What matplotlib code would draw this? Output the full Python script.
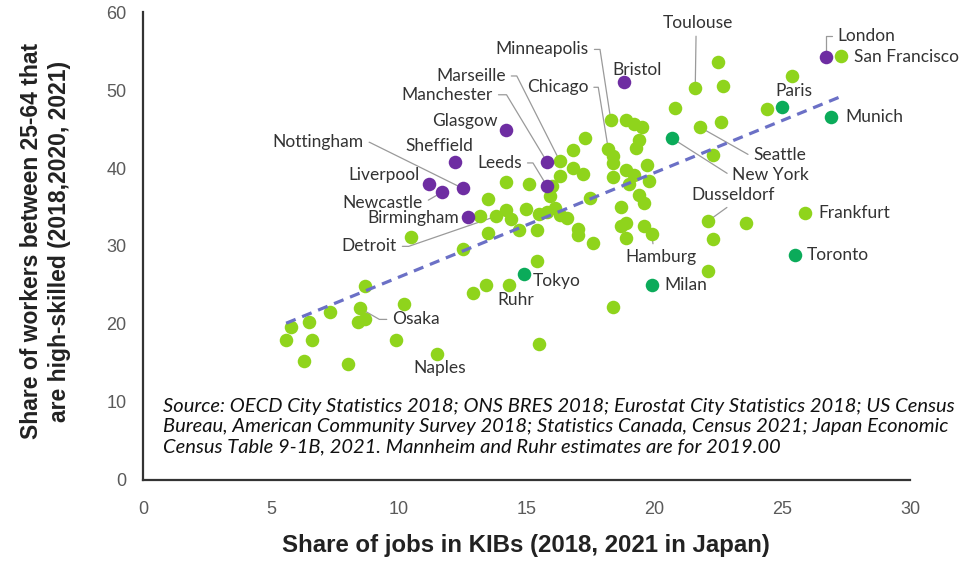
import numpy as np
import matplotlib
matplotlib.use('Agg')
import matplotlib.pyplot as plt

# colours
LIGHT = '#8fd41c'
DARK = '#0bab5a'
PURPLE = '#6e2da2'
TREND = '#6b70c6'

# UK cities
uk_names = ['London', 'Bristol', 'Glasgow', 'Sheffield', 'Manchester', 'Leeds',
            'Liverpool', 'Nottingham', 'Newcastle', 'Birmingham']
uk_kib = [26.7, 18.8, 14.2, 12.2, 15.8, 15.8, 11.2, 12.5, 11.7, 12.7]
uk_skill = [54.2, 51.0, 44.9, 40.8, 40.8, 37.7, 37.9, 37.4, 36.9, 33.7]

# highlighted international cities
hi_names = ['Paris', 'Munich', 'New York', 'Tokyo', 'Milan', 'Toronto']
hi_kib = [25.0, 26.9, 20.7, 14.9, 19.9, 25.5]
hi_skill = [47.8, 46.5, 43.8, 26.4, 25.0, 28.9]

# other labelled cities
lab_names = ['San Francisco', 'Toulouse', 'Seattle', 'Dusseldorf', 'Frankfurt',
             'Hamburg', 'Ruhr', 'Naples', 'Osaka', 'Detroit', 'Marseille',
             'Minneapolis', 'Chicago']
lab_kib = [27.3, 21.6, 21.8, 22.1, 25.9, 19.9, 14.3, 11.5, 8.5, 13.8, 16.3, 18.3, 18.2]
lab_skill = [54.4, 50.3, 45.2, 33.2, 34.2, 31.5, 25.0, 16.2, 22.0, 33.8, 40.9, 46.1, 42.4]

# unlabelled cities
oth_kib = [10.5, 8.7, 10.2, 7.3, 6.5, 5.8, 8.4, 8.7, 5.6, 6.6, 9.9, 6.3, 8.0,
           12.5, 15.4, 13.4, 12.9, 18.4, 15.5, 13.5, 14.7, 15.4, 17.0, 17.0,
           17.6, 18.7, 18.9, 18.9, 19.6, 13.2, 14.2, 14.4, 15.5, 15.8, 16.1,
           16.3, 16.6, 15.0, 13.5, 14.2, 15.1, 15.9, 16.0, 16.3, 16.8, 17.2,
           16.8, 17.3, 17.5, 18.9, 19.2, 19.5, 19.4, 19.3, 18.4, 18.4, 18.9,
           19.2, 19.7, 19.8, 18.4, 19.0, 19.4, 19.6, 18.7, 20.8, 22.5, 22.7,
           25.4, 24.4, 22.6, 22.3, 23.6, 22.3, 22.1]
oth_skill = [31.1, 24.9, 22.6, 21.6, 20.2, 19.6, 20.3, 20.7, 17.9, 17.9, 18.0,
             15.3, 14.9, 29.6, 28.1, 25.0, 24.0, 22.2, 17.4, 31.7, 32.0, 32.0,
             32.2, 31.4, 30.4, 32.5, 32.9, 31.0, 32.5, 33.8, 34.6, 33.4, 34.1,
             34.4, 34.9, 34.0, 33.6, 34.7, 36.0, 38.2, 37.9, 36.4, 37.7, 39.0,
             40.0, 39.2, 42.3, 43.9, 36.2, 46.1, 45.6, 45.2, 43.6, 42.6, 41.5,
             40.6, 39.8, 39.1, 40.4, 38.3, 38.9, 38.0, 36.5, 35.5, 35.0, 47.7,
             53.6, 50.5, 51.8, 47.6, 45.9, 41.7, 33.0, 30.9, 26.8]

trend_x = [5.6, 27.4]
trend_y = [20.1, 49.3]

# label layout: name, dx, dy (pixels), ha, leader (None / 'line' / angle of elbow)
labels = [
    ('London', 12, 21, 'left', 'london'),
    ('San Francisco', 13, -1, 'left', None),
    ('Toulouse', 3, 65, 'center', 'top'),
    ('Paris', 12, 16, 'center', None),
    ('Munich', 15, 0, 'left', None),
    ('Seattle', 53, -28, 'left', -29.5),
    ('New York', 60, -37, 'left', -32.5),
    ('Dusseldorf', 25, 26, 'center', 'bottom'),
    ('Frankfurt', 13, 0, 'left', None),
    ('Toronto', 12, 0, 'left', None),
    ('Milan', 13, 0, 'left', None),
    ('Hamburg', 9, -23, 'center', 'hamburg'),
    ('Tokyo', 9, -7, 'left', None),
    ('Ruhr', 7, -15, 'center', None),
    ('Naples', 3, -14, 'center', None),
    ('Osaka', 32, -11, 'left', -30),
    ('Detroit', -99, -30, 'right', 19),
    ('Birmingham', -9, -1, 'right', None),
    ('Newcastle', -19, -11, 'right', 'line'),
    ('Liverpool', -10, 9, 'right', None),
    ('Nottingham', -99, 46, 'right', -26.3),
    ('Sheffield', -16, 16, 'center', None),
    ('Glasgow', -8, 9, 'right', None),
    ('Leeds', -25, 23, 'right', 121.3),
    ('Manchester', -54, 67, 'right', 121.1),
    ('Marseille', -54, 85, 'right', 116.8),
    ('Minneapolis', -22, 71, 'right', 98.7),
    ('Chicago', -20, 62, 'right', 99.2),
    ('Bristol', 13, 12, 'center', None),
]

pos = {}
for n, x, y in zip(uk_names + hi_names + lab_names,
                   uk_kib + hi_kib + lab_kib,
                   uk_skill + hi_skill + lab_skill):
    pos[n] = (x, y)

fig = plt.figure(figsize=(9.68, 5.61), dpi=100)
ax = fig.add_axes([0.1477, 0.1444, 0.7924, 0.8342])

ms = 95
ax.scatter(oth_kib, oth_skill, s=ms, color=LIGHT, zorder=4, linewidths=0)
ax.scatter(lab_kib, lab_skill, s=ms, color=LIGHT, zorder=4, linewidths=0)
ax.scatter(hi_kib, hi_skill, s=ms, color=DARK, zorder=4, linewidths=0)
ax.scatter(uk_kib, uk_skill, s=ms, color=PURPLE, zorder=4, linewidths=0)
ax.plot(trend_x, trend_y, color=TREND, lw=2.3, ls=(0, (3.2, 2.2)), zorder=5)

lead = dict(arrowstyle='-', color='#9a9a9a', lw=0.9, shrinkB=0)
lab_font = dict(fontsize=12.5, color='#333333', family=['Lato', 'DejaVu Sans'])
for name, dx, dy, ha, leader in labels:
    ap = None
    if leader == 'london':
        ap = dict(lead, relpos=(0, 0.5), connectionstyle='angle,angleA=0,angleB=90,rad=0')
    elif leader == 'top':
        ap = dict(lead, relpos=(0.47, 0.05), connectionstyle='arc3')
    elif leader == 'bottom':
        ap = dict(lead, relpos=(0.5, 0.0), connectionstyle='arc3')
    elif leader == 'hamburg':
        ap = dict(lead, relpos=(0.4, 1.0), connectionstyle='arc3')
    elif leader == 'line':
        ap = dict(lead, relpos=(1, 0.5), connectionstyle='arc3')
    elif leader is not None:
        rp = (0, 0.5) if ha == 'left' else (1, 0.5)
        ap = dict(lead, relpos=rp,
                  connectionstyle=f'angle,angleA=0,angleB={leader},rad=0')
    ax.annotate(name, pos[name], xytext=(dx, dy), textcoords='offset pixels',
                ha=ha, va='center', arrowprops=ap, zorder=3, **lab_font)

ax.set_xlim(0, 30)
ax.set_ylim(0, 60)
ax.set_xticks(range(0, 31, 5))
ax.set_yticks(range(0, 61, 10))
for s in ['top', 'right']:
    ax.spines[s].set_visible(False)
for s in ['left', 'bottom']:
    ax.spines[s].set_linewidth(1.6)
    ax.spines[s].set_color('#333333')
ax.tick_params(length=0, labelcolor='#5a5a5a')
ax.tick_params(axis='x', pad=15)
ax.tick_params(axis='y', pad=12)
for t in ax.get_xticklabels() + ax.get_yticklabels():
    t.set_fontfamily(['Liberation Sans', 'DejaVu Sans'])
    t.set_fontsize(13)

ax.text(0.026, 0.176,
        'Source: OECD City Statistics 2018; ONS BRES 2018; Eurostat City Statistics 2018; US Census\n'
        'Bureau, American Community Survey 2018; Statistics Canada, Census 2021; Japan Economic\n'
        'Census Table 9-1B, 2021. Mannheim and Ruhr estimates are for 2019.00',
        transform=ax.transAxes, ha='left', va='top', fontsize=14.5, style='italic',
        family=['Lato', 'DejaVu Sans'], color='#111111', linespacing=1.25)

fig.text(0.047, 0.57, 'Share of workers between 25-64 that\nare high-skilled (2018,2020, 2021)',
         rotation=90, ha='center', va='center', fontsize=16.5, fontweight='bold',
         family=['Liberation Sans', 'DejaVu Sans'], color='#222222', linespacing=1.25)
fig.text(0.543, 0.027, 'Share of jobs in KIBs (2018, 2021 in Japan)',
         ha='center', va='center', fontsize=17.3, fontweight='bold',
         family=['Liberation Sans', 'DejaVu Sans'], color='#222222')

fig.savefig('out.png', dpi=100)
